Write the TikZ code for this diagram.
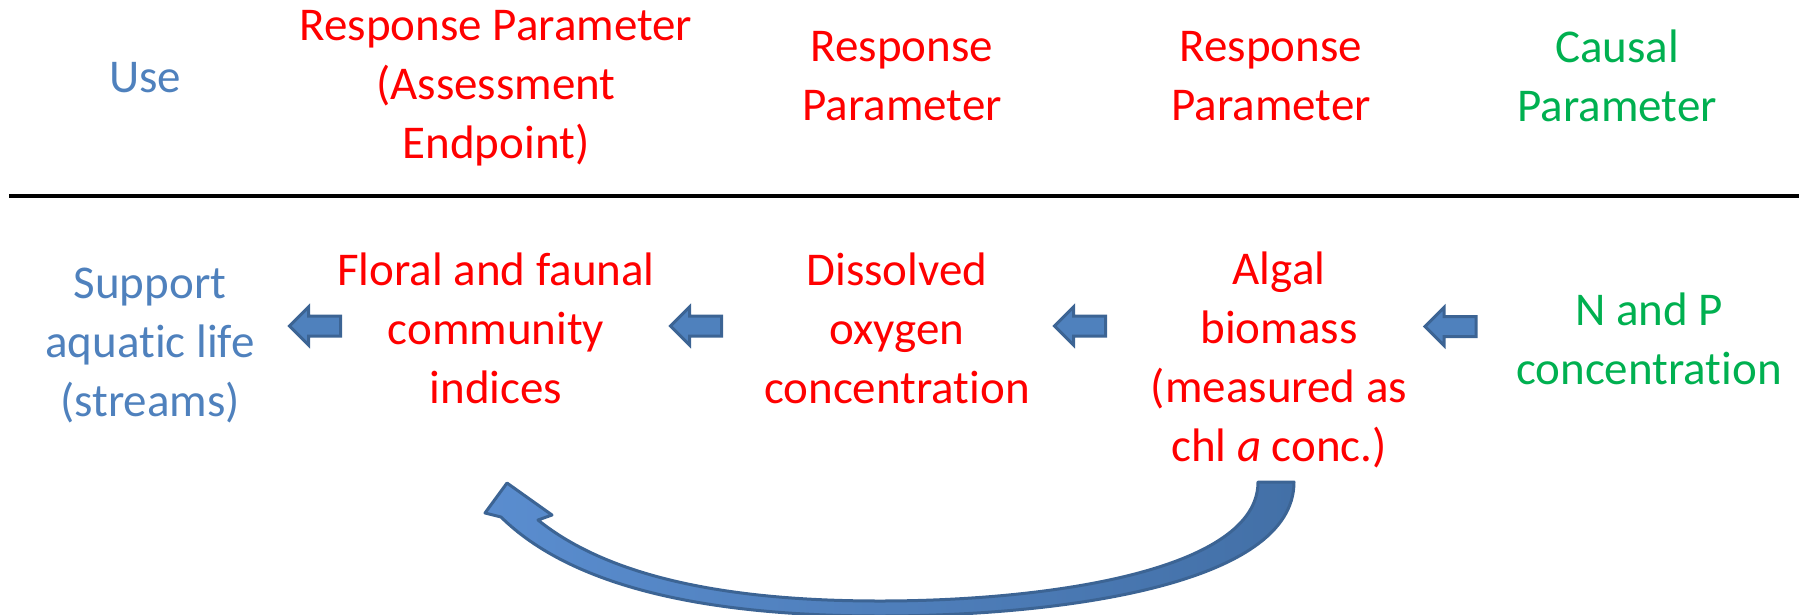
\documentclass[tikz,border=0pt]{standalone}
\usepackage{fontspec}
\setmainfont{Carlito}[Ligatures=NoCommon]
\usetikzlibrary{shapes.arrows}
\definecolor{rred}{HTML}{FF0000}
\definecolor{ublue}{HTML}{4F81BD}
\definecolor{cgreen}{HTML}{00B050}
\definecolor{aline}{HTML}{3C6494}
\definecolor{cdark}{HTML}{4370A7}
\definecolor{clight}{HTML}{5A8DCF}
\begin{document}
\begin{tikzpicture}[x=1pt,y=-1pt,
  txt/.style={font=\fontsize{47}{59}\selectfont, align=center, inner sep=0pt},
  blockarrow/.style={single arrow, draw=aline, fill=ublue, line width=3pt,
    minimum height=51pt, minimum width=35pt, single arrow head extend=9pt,
    inner sep=8.5pt, shape border rotate=180, single arrow tip angle=90}]
\useasboundingbox (0,0) rectangle (1807,614);
% headers
\node[txt, text=ublue] (hUse) at (145,78) {Use};
\node[txt, text=rred] (hRP1) at (496,88) {Response Parameter\\(Assessment\\Endpoint)};
\node[txt, text=rred] (hRP2) at (902,76) {Response\\Parameter};
\node[txt, text=rred] (hRP3) at (1271,76) {Response\\Parameter};
\node[txt, text=cgreen] (hCP) at (1617,76) {Causal\\Parameter};
% rule
\coordinate (lL) at (9,196);
\coordinate (lR) at (1799,196);
\draw[line width=4pt] (lL) -- (lR);
% body
\node[txt, text=ublue] (use) at (150,346) {Support\\aquatic life\\(streams)};
\node[txt, text=rred] (flo) at (496,328) {Floral and faunal\\community\\indices};
\node[txt, text=rred] (dis) at (897,328) {Dissolved\\oxygen\\concentration};
\node[txt, text=rred] (alg) at (1279,360) {Algal\\biomass\\(measured as\\chl \textit{a} conc.)};
\node[txt, text=cgreen] (np) at (1649,339) {N and P\\concentration};
% small block arrows
\node[blockarrow] (a1) at (320,326) {};
\node[blockarrow] (a2) at (701,326) {};
\node[blockarrow] (a3) at (1085,326) {};
\node[blockarrow] (a4) at (1455.5,326.5) {};
% curved arrow from algal biomass back to community indices
\coordinate (tL) at (1258,482);
\coordinate (tR) at (1294,482);
\coordinate (tip) at (507,483);
\path[draw=aline, line width=3pt, line join=round, left color=clight, right color=cdark]
  (tL) -- (tR) .. controls (1294,585) and (1060,616) .. (880,616)
  .. controls (700,616) and (570,585) .. (501,517)
  -- (485,513) -- (tip) -- (552,515) -- (538,520)
  .. controls (610,578) and (730,601) .. (880,601)
  .. controls (1050,601) and (1258,570) .. (tL) -- cycle;
\end{tikzpicture}
\end{document}
